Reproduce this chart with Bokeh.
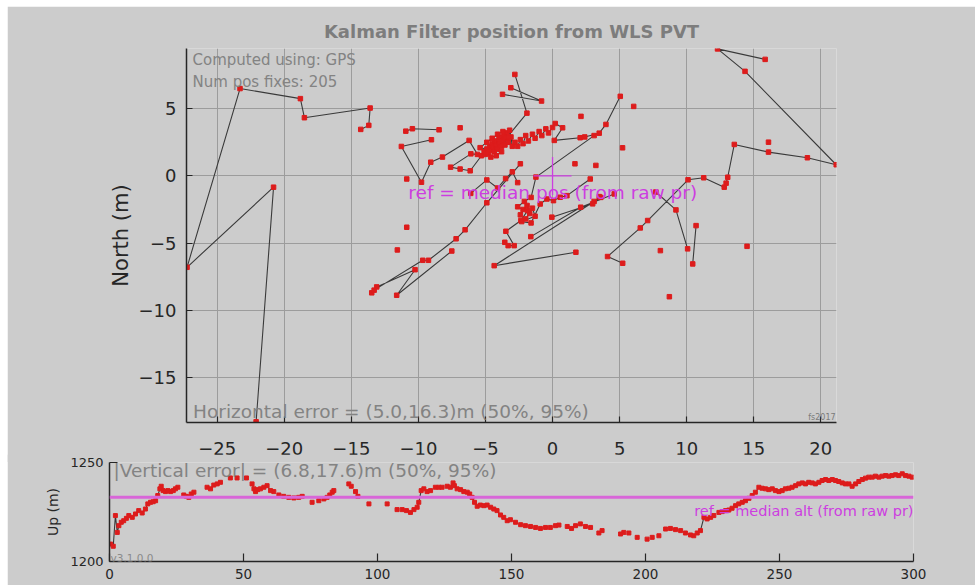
import numpy as np
from bokeh.plotting import figure
from bokeh.models import Label, Span, FixedTicker, Range1d, Spacer
from bokeh.layouts import column, row
from bokeh.embed import file_html
from bokeh.resources import INLINE

nan = float("nan")

# ---------------- data: horizontal track (East, North in m), nan = gap ----------------
east = [
    -22.1, -20.8, -27.25, -23.3, -18.8, -18.5, -13.6, -13.7, -14.3, nan,
    -10.94, -10.45, -8.46, nan,
    -6.89, nan, -10.87, nan, -10.87, nan, -11.57, nan,
    -9.03, -11.27, -9.77, -9.08, -8.21, -6.22, -5.6, -6.09, -7.6, -6.89, -6.14, -5.3,
    -5.1, -5.0, -4.9, -4.8, -4.7, -4.6, -4.5, -4.4, -4.35, -4.3, -4.2, -4.1, -4.0, -3.95,
    -3.9, -3.8, -3.7, -3.6, -3.55, -3.5, -3.4, -3.3, -3.2, -3.1, -3.0, -3.41, -1.91, -2.81, nan,
    -3.11, -0.82, -3.73, nan,
    -4.6, -4.2, -3.8, -5.4, -4.9, -4.5, -4.1, -3.7, -3.3, -2.8, -2.6, -2.4, -2.2, -2.0,
    -1.8, -1.5, -1.3, -1.0, -0.8, -0.5, -0.3, 0.0, 0.2, 0.75, 0.13, 2.06, 2.4, 3.48, 3.98, 5.05, nan,
    6.05, nan, 2.12, nan, 5.22, nan, 1.67, nan, 3.23, nan, 16.1, nan, 14.5, nan, 8.71, nan, 8.04, nan,
    3.1, -1.24, -1.6, -2.1, -2.6, -2.2, -2.4, -1.9, -1.7, -2.0, -1.5, -1.3, -2.3, -1.6,
    -0.92, -0.42, 0.07, 0.57, 1.07, 2.81, nan,
    -13.48, -13.11, -10.25, -11.62, -7.51, nan,
    -13.3, -9.68, -9.25, -7.19, -6.52, -4.9, -2.4, nan,
    -6.1, -4.9, -4.1, -3.5, -3.0, -2.6, nan,
    1.74, -4.35, 3.1, 3.6, nan,
    -3.56, -3.31, -2.86, -3.48, -2.36, -1.86, nan,
    -1.62, 2.1, 4.6, nan,
    -0.05, 2.99, 3.48, nan,
    5.23, 4.1, 6.54, 7.09, 10.1, 11.27, 12.8, 12.94, 13.06, 13.55, 16.1, 19.0, 21.15, 14.35, 12.3, 15.85, nan,
    7.7, 9.2, 10.07, nan,
    10.7, 10.45,
]
north = [
    -18.3, -0.84, -6.8, 6.5, 5.75, 4.33, 5.05, 3.76, 3.46, nan,
    3.33, 3.51, 3.43, nan,
    3.58, nan, -0.23, nan, -3.82, nan, -5.51, nan,
    2.69, 2.19, -0.47, 1.02, 1.4, 2.64, 1.6, 1.64, 0.65, 0.51, 0.38, 1.5,
    1.8, 1.6, 2.0, 1.7, 2.2, 1.9, 2.4, 2.1, 1.8, 2.6, 2.3, 2.0, 2.7, 2.4,
    2.9, 2.2, 2.6, 3.0, 2.3, 2.8, 3.2, 2.5, 3.4, 2.9, 2.2, 2.85, 4.67, 7.55, nan,
    6.56, 5.57, 6.07, nan,
    1.4, 1.5, 1.8, 2.1, 2.5, 2.8, 3.1, 3.3, 2.9, 2.5, 2.2, 2.7, 2.4, 3.0,
    2.6, 3.1, 2.8, 3.3, 3.0, 3.5, 3.2, 3.6, 3.9, 3.58, 2.64, 2.84, 2.9, 3.18, 3.83, 5.92, nan,
    5.17, nan, 4.43, nan, 2.09, nan, 0.9, nan, 0.78, nan, 2.51, nan, -5.24, nan, -8.99, nan, -5.56, nan,
    3.0, -0.09, -1.6, -1.9, -2.3, -2.5, -2.9, -2.2, -2.8, -3.2, -2.4, -3.0, -3.4, -3.5,
    -2.09, -1.72, -1.84, -1.59, -1.47, -0.23, nan,
    -8.70, -8.26, -6.98, -8.88, -5.59, nan,
    -8.5, -6.28, -6.28, -4.68, -4.01, -2.0, 0.9, nan,
    -1.3, -0.3, -0.9, -0.2, 0.3, -0.5, nan,
    -5.68, -6.68, -1.9, -1.6, nan,
    -4.94, -5.19, -5.19, -4.12, -3.32, -2.58, nan,
    -4.52, -2.33, -1.34, nan,
    -3.07, -2.08, -1.54, nan,
    -6.5, -6.0, -3.87, -3.32, -0.29, -0.14, -0.84, -0.54, -0.1, 2.34, 1.77, 1.35, 0.83, 7.78, 9.45, 8.67, nan,
    -1.2, -2.53, -5.43, nan,
    -3.7, -6.55,
]
ref_pos_east = [0.0]
ref_pos_north = [0.0]

# ---------------- data: altitude vs time ----------------
t_s = [
    0.4, 1.4, 2.2, 2.9, 3.5, 4.4, 5.3, 6.3, 7.2, 8.5, 9.7, 10.9, 12.2, 13.4, 14.3, 15.3, 16.3, 17.2,
    18.0, 18.8, 19.3, 20.0, 20.9, 21.8, 22.8, 23.8, 24.6, 25.5, 27.7, 28.7, 29.6, 30.5, 31.5,
    36.4, 37.7, 38.9, 40.2, 41.4, 45.1, 47.6, 51.1, 53.2, 53.9, 54.5, 55.3, 56.3, 57.6, 58.8,
    60.1, 61.3, 63.2, 65.0, 66.9, 68.8, 70.6, 71.9, 75.6, 78.1, 80.0, 81.2, 82.2, 83.1, 83.7,
    89.3, 90.2, 91.8, 92.7, 96.8, 103.6, 107.3, 109.2, 110.8, 112.3, 113.6, 114.8, 115.4,
    116.3, 117.3, 118.5, 119.8, 121.6, 122.9, 124.1, 126.0, 127.2, 128.2, 128.7, 129.7, 131.0,
    132.2, 133.5, 134.4, 135.3, 136.2, 137.2, 138.4, 139.7, 140.9, 142.2, 143.4, 144.6, 145.9,
    147.1, 148.4, 149.6, 151.5, 153.4, 155.2, 157.1, 159.0, 160.8, 162.7, 164.5, 166.4, 167.7,
    170.8, 172.4, 173.9, 175.7, 177.6, 179.5, 182.6, 183.8, 190.7, 191.9, 193.8, 196.9, 200.6,
    202.5, 205.0, 207.5, 209.3, 211.2, 213.1, 214.9, 216.8, 218.0, 219.3, 220.5, 221.8, 223.0,
    224.3, 225.5, 227.4, 228.6, 229.9, 231.1, 232.3, 233.6, 234.8, 236.1, 237.3, 238.6, 239.8,
    241.0, 242.3, 243.5, 244.8, 246.0, 247.3, 248.5, 249.8, 251.0, 252.2, 253.5, 254.7, 256.0,
    257.2, 258.5, 259.7, 260.9, 262.2, 263.4, 264.7, 265.9, 267.2, 268.4, 269.7, 270.9, 272.1,
    273.4, 274.6, 275.9, 277.1, 278.4, 279.6, 280.9, 282.1, 283.3, 284.6, 285.8, 287.1, 288.3,
    289.6, 290.8, 292.0, 293.3, 294.5, 295.8, 297.0, 298.3, 299.5,
]
up_m = [
    1208.8, 1207.7, 1223.2, 1214.7, 1218.1, 1219.8, 1220.6, 1221.8, 1223.2, 1222.3, 1224.0, 1225.7, 1224.5, 1226.5, 1229.1, 1229.9, 1230.2, 1230.7,
    1233.3, 1236.7, 1238.0, 1235.8, 1235.3, 1235.8, 1235.3, 1235.8, 1236.7, 1237.5, 1233.6, 1232.9, 1232.4, 1234.1, 1235.0,
    1237.5, 1236.7, 1238.6, 1239.2, 1240.0, 1242.2, 1242.2, 1242.2, 1239.2, 1236.7, 1235.3, 1236.3, 1236.7, 1237.5, 1238.3,
    1235.8, 1235.3, 1233.6, 1232.9, 1232.4, 1232.1, 1232.4, 1232.9, 1229.9, 1230.7, 1231.6, 1232.4, 1233.6, 1235.0, 1235.8,
    1239.2, 1238.0, 1235.3, 1232.9, 1229.1, 1229.1, 1226.2, 1226.2, 1225.7, 1224.8, 1226.2, 1227.4, 1229.9,
    1235.8, 1236.7, 1235.3, 1235.8, 1237.5, 1237.5, 1237.5, 1238.0, 1237.5, 1239.7, 1238.3, 1236.7, 1236.3,
    1235.3, 1235.0, 1234.1, 1232.4, 1229.9, 1227.9, 1228.5, 1228.2, 1228.5, 1227.4, 1226.5, 1225.7, 1223.5,
    1222.3, 1220.6, 1221.1, 1219.8, 1218.6, 1218.1, 1217.7, 1217.2, 1216.7, 1217.2, 1217.2, 1218.1, 1218.4,
    1217.7, 1216.7, 1218.1, 1219.0, 1217.7, 1217.2, 1214.4, 1215.6, 1213.9, 1214.7, 1214.4, 1212.2, 1211.3,
    1212.2, 1213.0, 1216.4, 1216.7, 1216.1, 1215.6, 1214.4, 1213.4, 1213.0, 1214.4, 1215.6, 1222.3, 1221.5,
    1222.3, 1223.2, 1224.8, 1225.2, 1225.7, 1226.0, 1226.9, 1228.2, 1229.1, 1229.9, 1230.7, 1231.9, 1233.3,
    1235.0, 1237.5, 1237.0, 1236.7, 1236.3, 1236.7, 1235.8, 1235.3, 1235.8, 1236.7, 1237.0, 1237.5, 1238.3,
    1239.2, 1239.7, 1239.2, 1240.0, 1239.7, 1239.2, 1240.0, 1240.9, 1241.4, 1240.9, 1241.4, 1240.9, 1240.4,
    1239.7, 1239.2, 1239.2, 1238.0, 1239.2, 1240.4, 1241.4, 1242.1, 1242.6, 1242.6, 1243.1, 1242.6, 1243.1,
    1243.4, 1243.1, 1243.4, 1243.8, 1243.4, 1244.3, 1243.4, 1243.1, 1242.6,
]
ref_alt = 1232.4

x_ticks = [-25, -20, -15, -10, -5, 0, 5, 10, 15, 20]
y_ticks = [-15, -10, -5, 0, 5]
t_ticks = [0, 50, 100, 150, 200, 250, 300]
up_ticks = [1200, 1250]

# ---------------- styling ----------------
BG = "#cccccc"
FONT = "DejaVu Sans"
AX = "#262626"
GRAYTXT = "#838383"
RED = "#dd1c1c"
TRACK = "#3a3a3a"
MAG_TXT = "#cc3ee0"
MAG_LINE = "#d866d8"


def style_axes(p, fs, tick_in):
    for ax in (p.xaxis, p.yaxis):
        ax.axis_line_color = AX
        ax.axis_line_width = 1.5
        ax.major_tick_line_color = AX
        ax.major_tick_line_width = 1.2
        ax.major_tick_in = tick_in
        ax.major_tick_out = 0
        ax.minor_tick_line_color = None
        ax.major_label_text_font = FONT
        ax.major_label_text_font_size = fs
        ax.major_label_text_color = AX
        ax.axis_label_text_font = FONT
        ax.axis_label_text_font_style = "normal"
        ax.axis_label_text_color = AX


# ---------------- top plot ----------------
p1 = figure(width=968, height=456,
            x_range=Range1d(-27.29, 21.17), y_range=Range1d(-18.35, 9.48),
            output_backend="svg", toolbar_location=None,
            min_border_left=179, min_border_right=139, min_border_top=42, min_border_bottom=40,
            background_fill_color=BG, border_fill_color=BG, outline_line_color=None)
p1.title.text = "Kalman Filter position from WLS PVT"
p1.title.align = "center"
p1.title.text_font = FONT
p1.title.text_font_size = "18px"
p1.title.text_font_style = "bold"
p1.title.text_color = "#7d7d7d"
p1.title.standoff = 14

style_axes(p1, "18px", 6)
p1.xaxis.ticker = FixedTicker(ticks=x_ticks)
p1.yaxis.ticker = FixedTicker(ticks=y_ticks)
p1.xaxis.major_label_standoff = 19
p1.yaxis.major_label_standoff = 10
p1.yaxis.axis_label = "North (m)"
p1.yaxis.axis_label_text_font_size = "21px"
p1.yaxis.axis_label_standoff = 3
p1.xgrid.ticker = FixedTicker(ticks=x_ticks)
p1.ygrid.ticker = FixedTicker(ticks=y_ticks)
for g in (p1.xgrid, p1.ygrid):
    g.grid_line_color = "#9c9c9c"
    g.grid_line_width = 1

p1.line(east, north, line_color=TRACK, line_width=1.1)
p1.scatter(east, north, size=4.5, marker="square", fill_color=RED, line_color=RED)
p1.scatter(ref_pos_east, ref_pos_north, marker="cross", size=38, line_color=MAG_TXT, line_width=1.3)

p1.add_layout(Label(x=-26.84, y=8.59, text="Computed using: GPS", text_font=FONT,
                    text_font_size="15px", text_color=GRAYTXT, text_baseline="middle"))
p1.add_layout(Label(x=-26.84, y=6.96, text="Num pos fixes: 205", text_font=FONT,
                    text_font_size="15px", text_color=GRAYTXT, text_baseline="middle"))
p1.add_layout(Label(x=-26.8, y=-17.56, text="Horizontal error  = (5.0,16.3)m (50%, 95%)",
                    text_font=FONT, text_font_size="18.5px", text_color=GRAYTXT,
                    text_baseline="middle"))
p1.add_layout(Label(x=-10.75, y=-1.25, text="ref = median pos (from raw pr)", text_font=FONT,
                    text_font_size="18.5px", text_color=MAG_TXT, text_baseline="middle"))
p1.add_layout(Label(x=21.1, y=-17.95, text="fs2017", text_font=FONT, text_font_size="8px",
                    text_color="#7a7a7a", text_align="right", text_baseline="middle"))

# ---------------- bottom plot ----------------
p2 = figure(width=968, height=131,
            x_range=Range1d(0, 300), y_range=Range1d(1200, 1250),
            output_backend="svg", toolbar_location=None,
            min_border_left=102, min_border_right=62, min_border_top=8, min_border_bottom=24,
            background_fill_color=BG, border_fill_color=BG, outline_line_color=None)
style_axes(p2, "13px", 8)
p2.xaxis.ticker = FixedTicker(ticks=t_ticks)
p2.yaxis.ticker = FixedTicker(ticks=up_ticks)
p2.xaxis.major_label_text_font_size = "13.5px"
p2.xaxis.major_label_standoff = 7
p2.yaxis.major_label_standoff = 6
p2.yaxis.axis_label = "Up (m)"
p2.yaxis.axis_label_text_font_size = "14px"
p2.yaxis.axis_label_standoff = 6
p2.xgrid.grid_line_color = None
p2.ygrid.grid_line_color = None

p2.add_layout(Span(location=ref_alt, dimension="width", line_color=MAG_LINE, line_width=3))

ts = np.array(t_s)
us = np.array(up_m)
lx, ly = [], []
for i in range(len(ts)):
    if i > 0 and ts[i] - ts[i - 1] > 1.5:
        lx.append(nan)
        ly.append(nan)
    lx.append(ts[i])
    ly.append(us[i])
p2.line(lx, ly, line_color=TRACK, line_width=1.1)
p2.scatter(ts, us, size=4, marker="square", fill_color=RED, line_color=RED)

p2.add_layout(Label(x=1.5, y=1245.9, text="|Vertical error| = (6.8,17.6)m (50%, 95%)",
                    text_font=FONT, text_font_size="18.5px", text_color=GRAYTXT,
                    text_baseline="middle"))
p2.add_layout(Label(x=300, y=1225.7, text="ref = median alt (from raw pr)", text_font=FONT,
                    text_font_size="14.5px", text_color=MAG_TXT, text_align="right",
                    text_baseline="middle"))
p2.add_layout(Label(x=0.4, y=1202.0, text="v3.1.0.0", text_font=FONT, text_font_size="10.5px",
                    text_color="#8a8a8a", text_baseline="middle"))

top_row = row(p1)
bottom_row = row(p2, margin=(-8, 0, 0, 0))
layout = column(Spacer(width=975, height=6),
                row(Spacer(width=7, height=579), column(top_row, bottom_row, spacing=0), spacing=0),
                spacing=0)

open("out.html", "w").write(file_html(layout, INLINE))
